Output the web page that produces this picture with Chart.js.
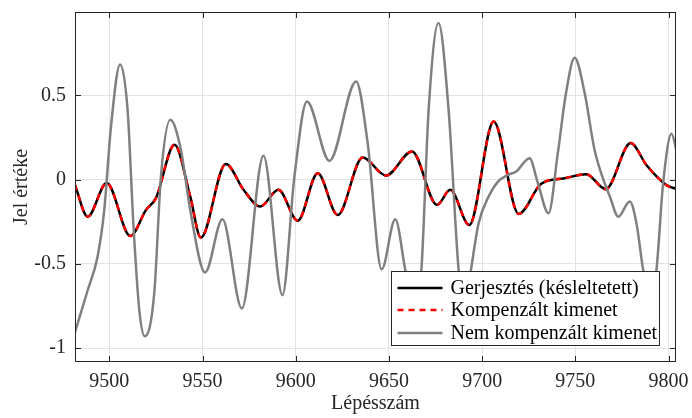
<!DOCTYPE html>
<html>
<head>
<meta charset="utf-8">
<title>Jel értéke</title>
<script src="https://cdn.jsdelivr.net/npm/chart.js@4/dist/chart.umd.min.js"></script>
<style>
  html, body { margin: 0; padding: 0; background: #fff; }
  #wrap { width: 692px; height: 418px; }
</style>
</head>
<body>
<div id="wrap"><canvas id="jelChart" width="692" height="418"></canvas></div>
<script>
// Gerjesztés (késleltetett) - lépésszám és érték
var gerjX = [9481.5, 9488.4, 9498.6, 9511.3, 9519.7, 9525, 9535, 9543.4, 9549.1, 9562.5,
             9572, 9580.9, 9590.7, 9601.1, 9611.8, 9622.5, 9635.9, 9648.4, 9662.4, 9675.8,
             9682.9, 9693.1, 9706.2, 9719.6, 9731.7, 9744.2, 9755.8, 9766.3, 9779.7, 9788.1,
             9798.8, 9804.5];
var gerjY = [-0.03, -0.22, -0.02, -0.335, -0.18, -0.11, 0.207, -0.10, -0.345, 0.093,
             -0.06, -0.16, -0.06, -0.244, 0.038, -0.21, 0.131, 0.024, 0.167, -0.15,
             -0.06, -0.27, 0.345, -0.204, -0.025, 0.008, 0.032, -0.057, 0.217, 0.087,
             -0.032, -0.057];

// Kompenzált kimenet - gyakorlatilag fedi a gerjesztést
var kompY = [-0.03, -0.22, -0.02, -0.335, -0.18, -0.11, 0.207, -0.10, -0.345, 0.093,
             -0.06, -0.16, -0.06, -0.244, 0.038, -0.21, 0.131, 0.024, 0.167, -0.15,
             -0.06, -0.27, 0.345, -0.204, -0.025, 0.008, 0.032, -0.057, 0.217, 0.087,
             -0.032, -0.057];

// Nem kompenzált kimenet
var nemX = [9481.5, 9488.4, 9493.7, 9497.3, 9500.9, 9505.8, 9509.8, 9513, 9516.1, 9519.1,
            9524.1, 9527.7, 9532.7, 9538.4, 9543.4, 9551.4, 9560.7, 9571.1, 9582.7, 9592.9,
            9599.3, 9606, 9618.1, 9632.4, 9638.6, 9646.1, 9653.4, 9658.8, 9663, 9667.4,
            9671.3, 9676.6, 9682, 9687.4, 9690.7, 9694, 9698.1, 9703.5, 9708.5, 9713.8,
            9718.3, 9725.4, 9729.9, 9735.6, 9740.6, 9745, 9749.6, 9755, 9760.3, 9765.7,
            9768.5, 9773, 9779.2, 9782.8, 9786.4, 9790, 9793.5, 9797.1, 9801.6, 9804.5];
var nemY = [-0.91, -0.657, -0.458, -0.18, 0.315, 0.683, 0.415, -0.28, -0.776, -0.93,
            -0.676, 0.018, 0.355, 0.177, -0.18, -0.551, -0.236, -0.765, 0.141, -0.686,
            0.018, 0.464, 0.111, 0.583, 0.217, -0.533, -0.236, -0.537, -0.75, -0.537,
            0.415, 0.93, 0.415, -0.537, -0.78, -0.537, -0.26, -0.1, -0.012, 0.028,
            0.048, 0.127, -0.021, -0.2, 0.157, 0.514, 0.723, 0.514, 0.177, -0.021,
            -0.1, -0.22, -0.13, -0.26, -0.537, -0.72, -0.537, -0.021, 0.272, 0.16];

var xTicks = [9500, 9550, 9600, 9650, 9700, 9750, 9800];
var yTicks = [-1, -0.5, 0, 0.5];
var yTickLabels = ['-1', '-0.5', '0', '0.5'];

function pontok(xs, ys) {
    return xs.map(function (x, i) { return { x: x, y: ys[i] }; });
}

// keret, befelé mutató osztások és a jelmagyarázat a rajzterületen belül
var keretPlugin = {
    id: 'keret',
    afterDatasetsDraw: function (chart) {
        var ctx = chart.ctx;
        var a = chart.chartArea;
        var xs = chart.scales.x, ys = chart.scales.y;
        ctx.save();
        ctx.strokeStyle = '#262626';
        ctx.lineWidth = 1;
        ctx.beginPath();
        xTicks.forEach(function (v) {
            var px = Math.round(xs.getPixelForValue(v)) + 0.5;
            ctx.moveTo(px, a.bottom); ctx.lineTo(px, a.bottom - 6);
            ctx.moveTo(px, a.top); ctx.lineTo(px, a.top + 6);
        });
        yTicks.forEach(function (v) {
            var py = Math.round(ys.getPixelForValue(v)) + 0.5;
            ctx.moveTo(a.left, py); ctx.lineTo(a.left + 6, py);
            ctx.moveTo(a.right, py); ctx.lineTo(a.right - 6, py);
        });
        ctx.stroke();
        ctx.strokeRect(Math.round(a.left) + 0.5, Math.round(a.top) + 0.5,
                       Math.round(a.width) - 1, Math.round(a.height) - 1);

        // jelmagyarázat
        var w = 268, h = 74;
        var lx = Math.round(a.right - 17 - w) + 0.5;
        var ly = Math.round(a.bottom - 17 - h) + 0.5;
        ctx.fillStyle = '#fff';
        ctx.fillRect(lx, ly, w, h);
        ctx.strokeStyle = '#262626';
        ctx.strokeRect(lx, ly, w, h);
        ctx.font = '20px "Liberation Serif", "Times New Roman", serif';
        ctx.textBaseline = 'middle';
        ctx.textAlign = 'left';
        var rows = [16.5, 38.5, 61.5];
        chart.data.datasets.forEach(function (ds, i) {
            var ry = ly + rows[i];
            ctx.beginPath();
            ctx.strokeStyle = ds.borderColor;
            ctx.lineWidth = ds.borderWidth;
            ctx.setLineDash(ds.borderDash || []);
            ctx.moveTo(lx + 6, ry);
            ctx.lineTo(lx + 51, ry);
            ctx.stroke();
            ctx.setLineDash([]);
            ctx.fillStyle = '#000';
            ctx.fillText(ds.label, lx + 59, ry + 1);
        });
        ctx.restore();
    }
};

Chart.defaults.font.family = '"Liberation Serif", "Times New Roman", serif';
Chart.defaults.font.size = 20;
Chart.defaults.color = '#262626';

new Chart(document.getElementById('jelChart').getContext('2d'), {
    type: 'line',
    data: {
        datasets: [{
            label: 'Gerjesztés (késleltetett)',
            data: pontok(gerjX, gerjY),
            borderColor: '#000000',
            borderWidth: 2.5,
            order: 2
        }, {
            label: 'Kompenzált kimenet',
            data: pontok(gerjX, kompY),
            borderColor: '#ff0000',
            borderWidth: 2.5,
            borderDash: [6, 5],
            order: 1
        }, {
            label: 'Nem kompenzált kimenet',
            data: pontok(nemX, nemY),
            borderColor: '#808080',
            borderWidth: 2.5,
            order: 0
        }]
    },
    options: {
        responsive: false,
        animation: false,
        layout: { padding: { top: 12, right: 16, left: 0, bottom: 0 } },
        elements: {
            point: { radius: 0 },
            line: { cubicInterpolationMode: 'monotone', fill: false }
        },
        plugins: {
            legend: { display: false },
            tooltip: { enabled: false }
        },
        scales: {
            x: {
                type: 'linear',
                min: 9481.6,
                max: 9804,
                afterFit: function (s) {
                    s.height = 56;
                    s.paddingLeft = 0; s.paddingRight = 0;
                },
                afterBuildTicks: function (s) {
                    s.ticks = xTicks.map(function (v) { return { value: v }; });
                },
                ticks: {
                    padding: 8,
                    maxRotation: 0,
                    callback: function (v) { return String(v); }
                },
                grid: { color: '#e3e3e3', drawTicks: false },
                border: { display: false },
                title: { display: true, text: 'Lépésszám', padding: { top: 0, bottom: 2 } }
            },
            y: {
                type: 'linear',
                min: -1.083,
                max: 0.995,
                afterFit: function (s) {
                    s.width = 75;
                    s.paddingTop = 0; s.paddingBottom = 0;
                },
                afterBuildTicks: function (s) {
                    s.ticks = yTicks.map(function (v) { return { value: v }; });
                },
                ticks: {
                    padding: 9,
                    callback: function (v) { return yTickLabels[yTicks.indexOf(v)]; }
                },
                grid: { color: '#e3e3e3', drawTicks: false },
                border: { display: false },
                title: { display: true, text: 'Jel értéke', padding: { top: 10, bottom: 0 } }
            }
        }
    },
    plugins: [keretPlugin]
});
</script>
</body>
</html>
